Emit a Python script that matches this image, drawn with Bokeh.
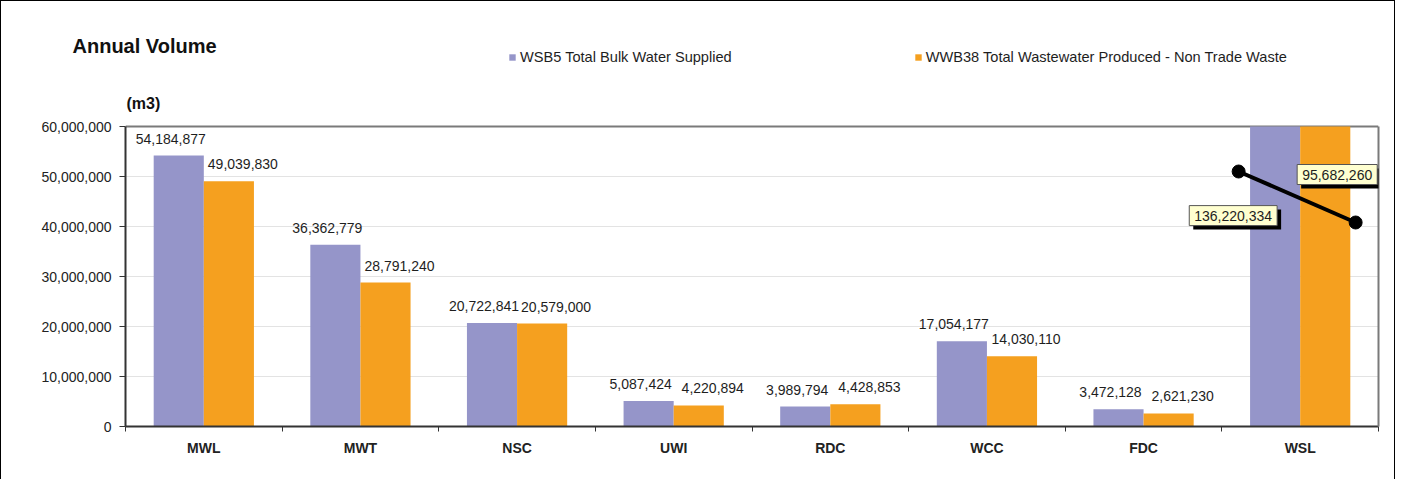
from bokeh.plotting import figure
from bokeh.models import (Range1d, FixedTicker, ColumnDataSource, LabelSet, Label, Title, Span,
                          Legend, LegendItem, NumeralTickFormatter, CustomJSTickFormatter,
                          LinearAxis)
from bokeh.embed import file_html
from bokeh.resources import INLINE
from bokeh.core.properties import value

# ---- data ----
categories = ["MWL", "MWT", "NSC", "UWI", "RDC", "WCC", "FDC", "WSL"]
wsb5 = [54184877, 36362779, 20722841, 5087424, 3989794, 17054177, 3472128, 136220334]
wwb38 = [49039830, 28791240, 20579000, 4220894, 4428853, 14030110, 2621230, 95682260]
series_names = ["WSB5 Total Bulk Water Supplied",
                "WWB38 Total Wastewater Produced - Non Trade Waste"]
y_ticks = [0, 10000000, 20000000, 30000000, 40000000, 50000000, 60000000]
title_text = "Annual Volume"
unit_text = "(m3)"

# ---- styles / layout ----
PURPLE = "#9595c9"
ORANGE = "#f5a01f"
FONT = "Liberation Sans"
YMAX = y_ticks[-1]
BAR_W = 0.32
W, H = 1395, 479
PX_PLOT = 300      # pixel height of the value axis (0 .. YMAX)
PX_HEAD = 78       # header strip inside the frame, above YMAX (legend, unit)
Y_END = YMAX * (PX_PLOT + PX_HEAD) / PX_PLOT

p = figure(width=W, height=H, output_backend="svg", toolbar_location=None,
           x_range=Range1d(0, len(categories)), y_range=Range1d(0, Y_END),
           min_border_left=124, min_border_top=47, min_border_right=18,
           min_border_bottom=54)
p.styles = {"border-left": "1px solid #000", "border-top": "1px solid #000",
            "border-right": "1px solid #000"}
p.background_fill_color = "white"
p.border_fill_color = "white"
p.outline_line_color = None

ytick = FixedTicker(ticks=y_ticks, minor_ticks=[])
p.xgrid.visible = False
p.ygrid.ticker = ytick
p.ygrid.grid_line_color = "#e3e3e3"
p.ygrid.grid_line_width = 1

ya = p.yaxis[0]
ya.ticker = ytick
ya.bounds = (0, YMAX)
ya.formatter = NumeralTickFormatter(format="0,0")
ya.axis_line_color = "#333333"
ya.axis_line_width = 2
ya.major_tick_line_color = "#333333"
ya.major_tick_out = 6
ya.major_tick_in = 0
ya.major_label_standoff = 8
ya.major_label_text_font = FONT
ya.major_label_text_font_size = "14px"
ya.major_label_text_color = "#222222"

# right edge of the plot box
p.add_layout(LinearAxis(bounds=(0, YMAX), ticker=FixedTicker(ticks=[]),
                        axis_line_color="#7a7a7a", axis_line_width=2,
                        major_tick_line_color=None, minor_tick_line_color=None,
                        major_label_text_font_size="0px"), "right")
# top edge of the plot box (drawn beneath the bars)
p.add_layout(Span(location=YMAX, dimension="width", line_color="#7a7a7a",
                  line_width=2, level="underlay"))

xa = p.xaxis[0]
xa.ticker = FixedTicker(ticks=[i + 0.5 for i in range(len(categories))],
                        minor_ticks=list(range(len(categories) + 1)))
xa.formatter = CustomJSTickFormatter(args=dict(cats=categories),
                                     code="return cats[Math.floor(tick)];")
xa.axis_line_color = "#333333"
xa.axis_line_width = 2
xa.major_tick_out = 0
xa.major_tick_in = 0
xa.minor_tick_out = 5
xa.minor_tick_in = 0
xa.minor_tick_line_color = "#333333"
xa.major_label_standoff = 8
xa.major_label_text_font = FONT
xa.major_label_text_font_size = "14px"
xa.major_label_text_font_style = "bold"
xa.major_label_text_color = "#222222"

xs = [i + 0.5 for i in range(len(categories))]
x1 = [v - BAR_W / 2 for v in xs]
x2 = [v + BAR_W / 2 for v in xs]
# bars taller than the value axis are drawn cut at the axis top (values shown in callouts)
src1 = ColumnDataSource(dict(x=x1, top=[min(v, YMAX) for v in wsb5], value=wsb5))
src2 = ColumnDataSource(dict(x=x2, top=[min(v, YMAX) for v in wwb38], value=wwb38))
r1 = p.vbar(x="x", top="top", width=BAR_W, source=src1, fill_color=PURPLE, line_color=None)
r2 = p.vbar(x="x", top="top", width=BAR_W, source=src2, fill_color=ORANGE, line_color=None)


def in_range(vals, xv):
    keep = [i for i, v in enumerate(vals) if v <= YMAX]
    return ColumnDataSource(dict(x=[xv[i] for i in keep], y=[vals[i] for i in keep],
                                 lab=[f"{vals[i]:,}" for i in keep]))


for s, off in ((in_range(wsb5, x1), -8), (in_range(wwb38, x2), 14)):
    p.add_layout(LabelSet(x="x", y="y", text="lab", source=s, x_offset=off, y_offset=12,
                          text_align="center", text_baseline="bottom",
                          text_font=value(FONT), text_font_size="14px",
                          text_color="#1e1e1e"))

# callouts for bars beyond the axis range (WSL)
for i in [k for k, v in enumerate(wsb5) if v > YMAX]:
    gx = xs[i]
    lx = [gx - 0.393, gx + 0.354]
    ly = [0.85 * YMAX, 0.68 * YMAX]
    p.line(lx, ly, line_color="black", line_width=4)
    p.scatter(lx, ly, size=13, fill_color="black", line_color="black")
    for val, xo, yf in ((wsb5[i], -67, 0.703), (wwb38[i], 37, 0.84)):
        common = dict(x=gx, y=yf * YMAX, text=f"{val:,}", text_align="center",
                      text_baseline="middle", text_font=FONT, text_font_size="14px",
                      padding=5)
        p.add_layout(Label(x_offset=xo + 4, y_offset=-4, text_color="black",
                           background_fill_color="black", **common))
        p.add_layout(Label(x_offset=xo, y_offset=0, text_color="#1e1e1e",
                           background_fill_color="#ffffd0", border_line_color="#555555",
                           **common))

# ---- legend and unit inside the header strip of the frame ----
legend = Legend(items=[LegendItem(label=series_names[0], renderers=[r1]),
                       LegendItem(label=series_names[1], renderers=[r2])],
                orientation="horizontal", location=(383, 361))
legend.border_line_color = None
legend.background_fill_alpha = 0
legend.padding = 0
legend.margin = 0
legend.spacing = 182
legend.glyph_width = 8
legend.glyph_height = 8
legend.label_standoff = 4
legend.label_height = 14
legend.label_text_font = FONT
legend.label_text_font_size = "14.6px"
legend.label_text_color = "#1e1e1e"
p.add_layout(legend, "center")

p.add_layout(Label(x=1, y=323, x_units="screen", y_units="screen", text=unit_text,
                   text_font=FONT, text_font_size="16px", text_font_style="bold",
                   text_baseline="middle", text_color="#111111"))

# ---- chart title in the side panel above ----
p.add_layout(Title(text=title_text, align="left", offset=-53, standoff=-16,
                   text_font=FONT, text_font_size="20px", text_font_style="bold",
                   text_color="#111111"), "above")

open("out.html", "w").write(file_html(p, INLINE))
